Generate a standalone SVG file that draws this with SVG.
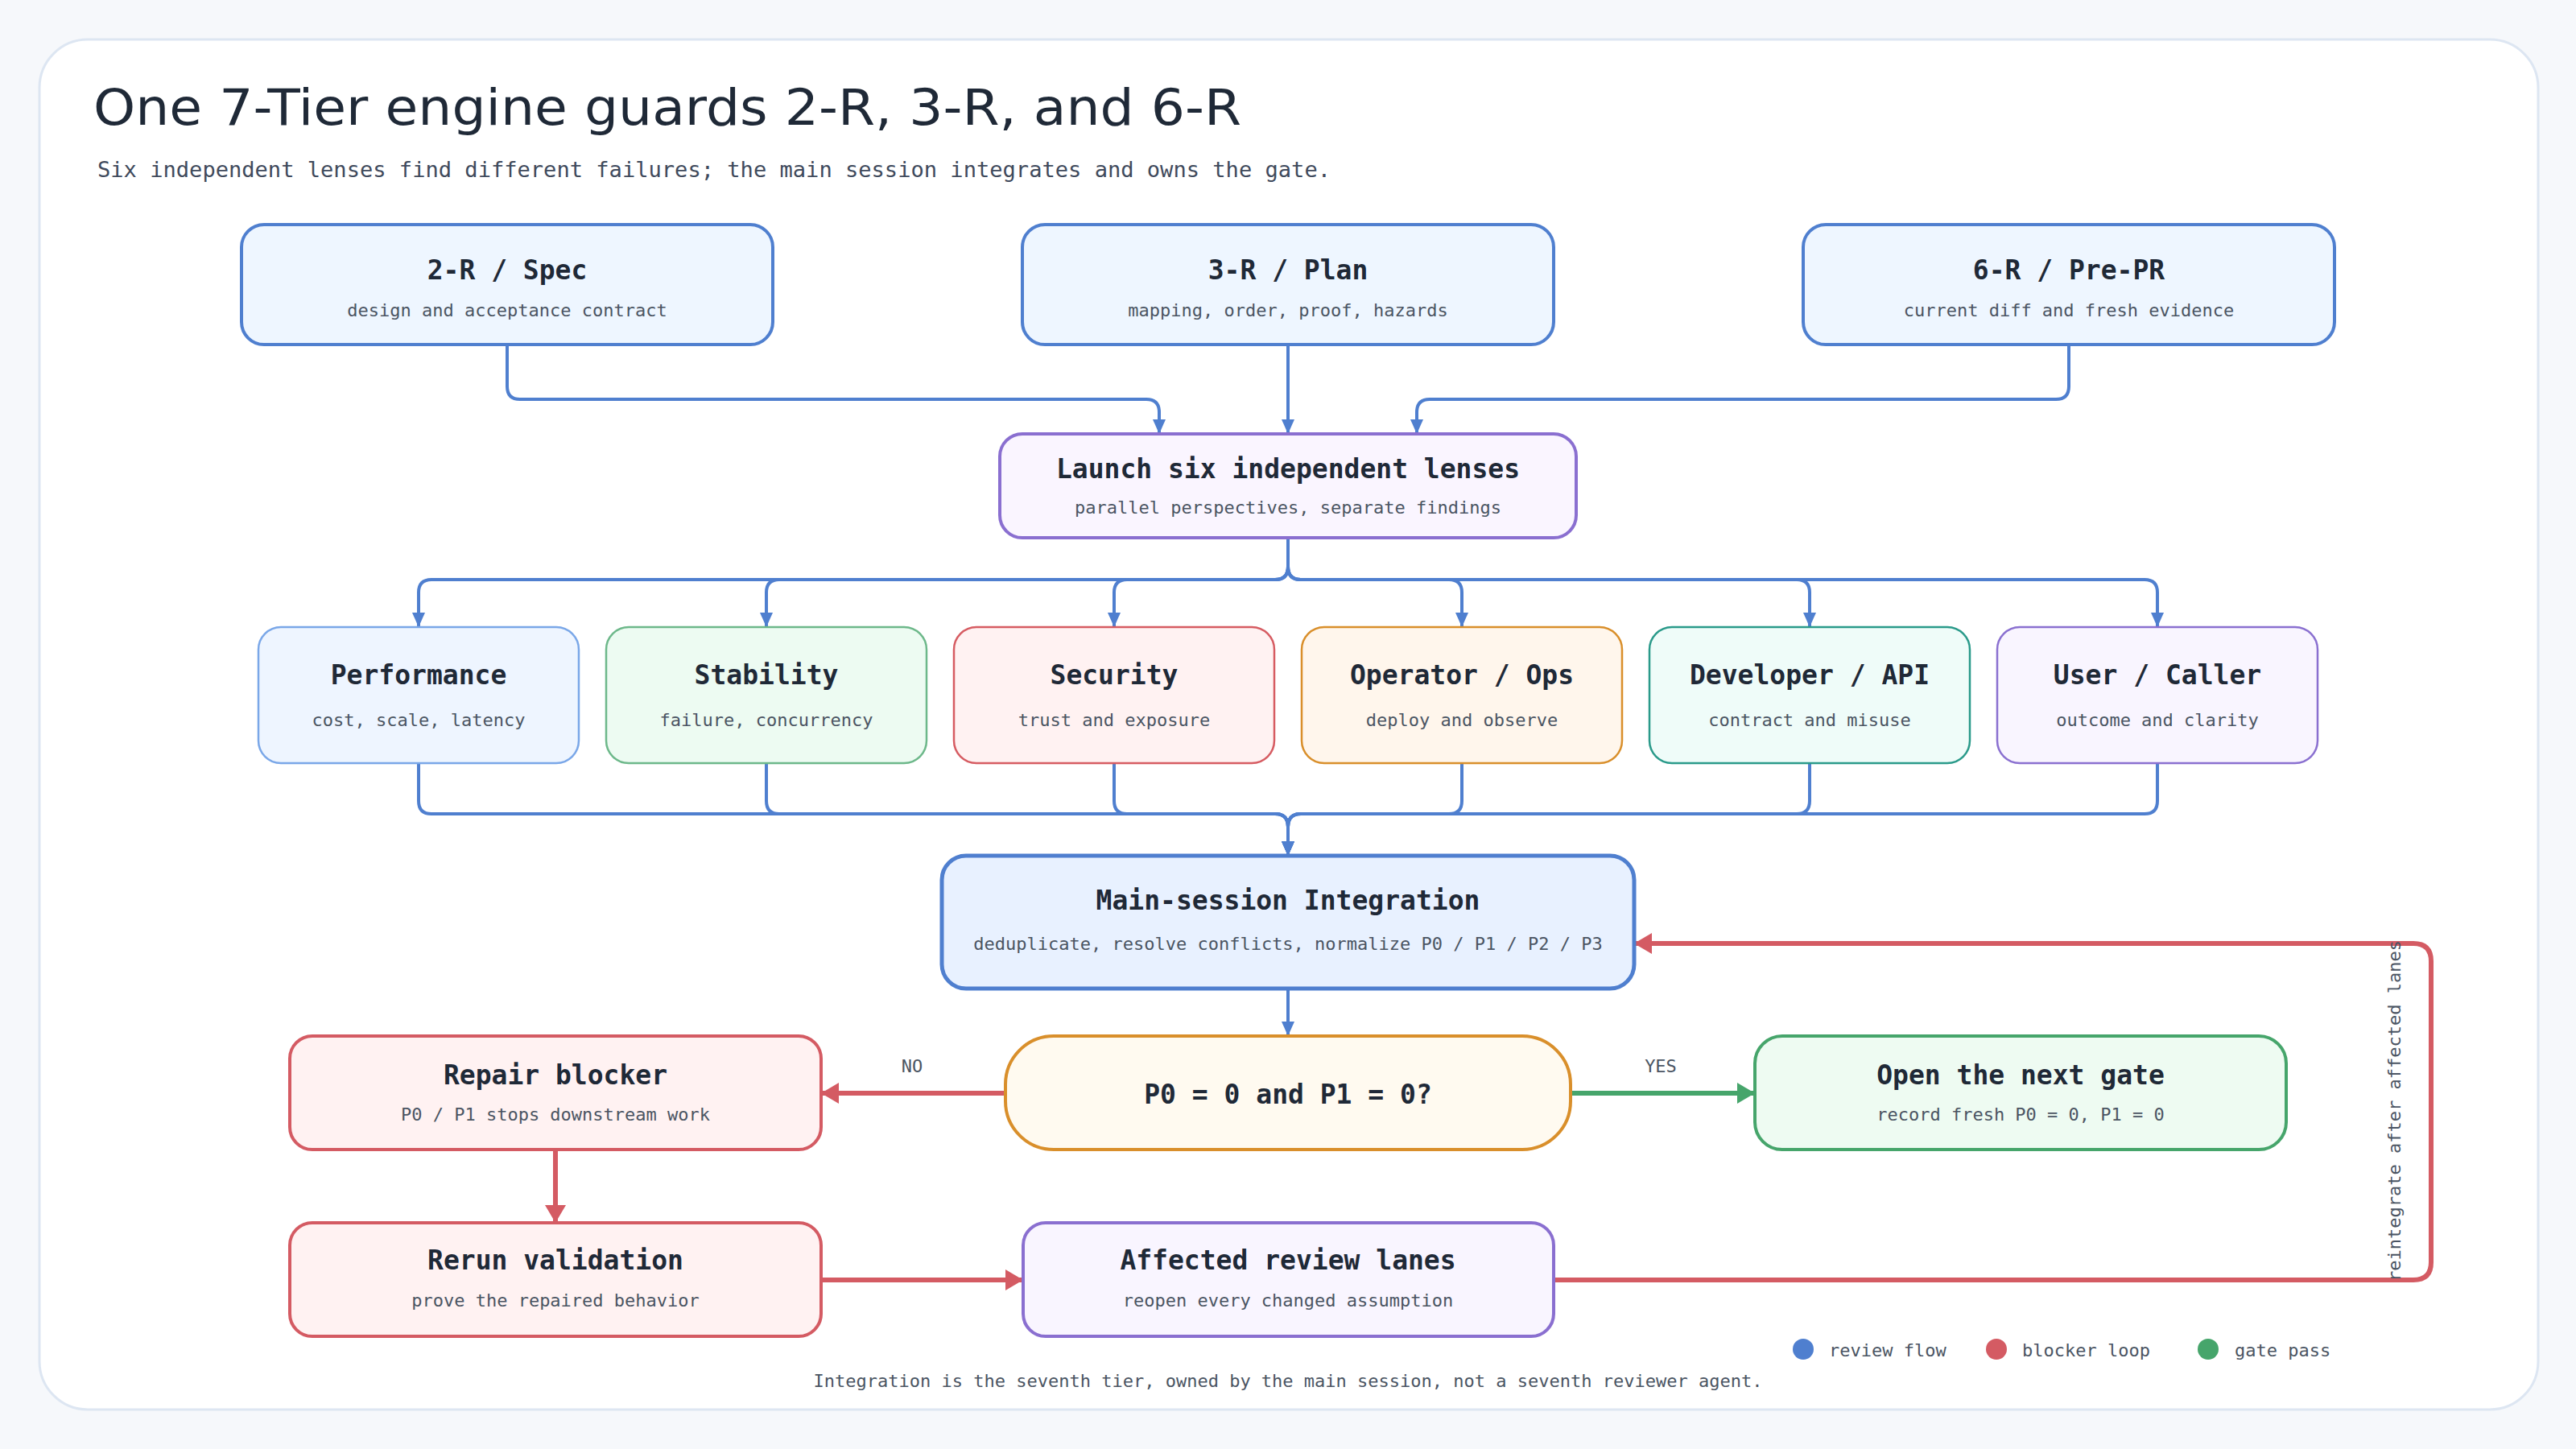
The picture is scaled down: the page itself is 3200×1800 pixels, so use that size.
<svg xmlns="http://www.w3.org/2000/svg" width="3200" height="1800" viewBox="0 0 3200 1800">
<style>
.t{font-family:"DejaVu Sans Mono","Liberation Mono",monospace;font-weight:bold;font-size:33px;fill:#1f2937;text-anchor:middle}
.s{font-family:"DejaVu Sans Mono","Liberation Mono",monospace;font-size:22px;fill:#4b5563;text-anchor:middle}
.lbl{font-family:"DejaVu Sans Mono","Liberation Mono",monospace;font-size:22px;fill:#4b5563}
.blue{fill:none;stroke:#4f7fcf;stroke-width:4}
.red{fill:none;stroke:#d45b63;stroke-width:6}
.green{fill:none;stroke:#46a56b;stroke-width:6}
</style>
<defs>
<marker id="ab" markerUnits="userSpaceOnUse" markerWidth="18" markerHeight="24" viewBox="0 0 18 24" refX="18" refY="9" orient="auto"><path d="M0 1 L18 9 L0 17 Z" fill="#4f7fcf"/></marker>
<marker id="ar" markerUnits="userSpaceOnUse" markerWidth="22" markerHeight="26" viewBox="0 0 22 26" refX="22" refY="13" orient="auto"><path d="M0 0 L22 13 L0 26 Z" fill="#d45b63"/></marker>
<marker id="ag" markerUnits="userSpaceOnUse" markerWidth="22" markerHeight="26" viewBox="0 0 22 26" refX="22" refY="13" orient="auto"><path d="M0 0 L22 13 L0 26 Z" fill="#46a56b"/></marker>
</defs>
<rect x="0" y="0" width="3200" height="1800" fill="#f6f8fb"/>
<rect x="49" y="49" width="3104" height="1702" rx="60" fill="#ffffff" stroke="#dde6f2" stroke-width="3"/>
<text x="116" y="155" font-family="'DejaVu Sans','Liberation Sans',sans-serif" font-size="62" fill="#1f2937" textLength="1426" lengthAdjust="spacingAndGlyphs">One 7-Tier engine guards 2-R, 3-R, and 6-R</text>
<text x="121" y="220" font-family="'DejaVu Sans Mono','Liberation Mono',monospace" font-size="27" fill="#3f4a5c" textLength="1532" lengthAdjust="spacingAndGlyphs">Six independent lenses find different failures; the main session integrates and owns the gate.</text>

<g id="connectors">
<path class="blue" d="M630 428 V480 Q630 496 646 496 H1424 Q1440 496 1440 512 V539" marker-end="url(#ab)"/>
<path class="blue" d="M1600 428 V539" marker-end="url(#ab)"/>
<path class="blue" d="M2570 428 V480 Q2570 496 2554 496 H1776 Q1760 496 1760 512 V539" marker-end="url(#ab)"/>
<path class="blue" d="M1600 668 V704 Q1600 720 1584 720 H536 Q520 720 520 736 V779" marker-end="url(#ab)"/>
<path class="blue" d="M1600 668 V704 Q1600 720 1584 720 H968 Q952 720 952 736 V779" marker-end="url(#ab)"/>
<path class="blue" d="M1600 668 V704 Q1600 720 1584 720 H1400 Q1384 720 1384 736 V779" marker-end="url(#ab)"/>
<path class="blue" d="M1600 668 V704 Q1600 720 1616 720 H1800 Q1816 720 1816 736 V779" marker-end="url(#ab)"/>
<path class="blue" d="M1600 668 V704 Q1600 720 1616 720 H2232 Q2248 720 2248 736 V779" marker-end="url(#ab)"/>
<path class="blue" d="M1600 668 V704 Q1600 720 1616 720 H2664 Q2680 720 2680 736 V779" marker-end="url(#ab)"/>
<path class="blue" d="M520 948 V995 Q520 1011 536 1011 H1584 Q1600 1011 1600 1027 V1063" marker-end="url(#ab)"/>
<path class="blue" d="M952 948 V995 Q952 1011 968 1011 H1584 Q1600 1011 1600 1027 V1063" marker-end="url(#ab)"/>
<path class="blue" d="M1384 948 V995 Q1384 1011 1400 1011 H1584 Q1600 1011 1600 1027 V1063" marker-end="url(#ab)"/>
<path class="blue" d="M1816 948 V995 Q1816 1011 1800 1011 H1616 Q1600 1011 1600 1027 V1063" marker-end="url(#ab)"/>
<path class="blue" d="M2248 948 V995 Q2248 1011 2232 1011 H1616 Q1600 1011 1600 1027 V1063" marker-end="url(#ab)"/>
<path class="blue" d="M2680 948 V995 Q2680 1011 2664 1011 H1616 Q1600 1011 1600 1027 V1063" marker-end="url(#ab)"/>
<path class="blue" d="M1600 1228 V1287" marker-end="url(#ab)"/>
<path class="red" d="M1249 1358 H1020" marker-end="url(#ar)"/>
<path class="green" d="M1951 1358 H2180" marker-end="url(#ag)"/>
<path class="red" d="M690 1428 V1519" stroke-width="5" marker-end="url(#ar)"/>
<path class="red" d="M1020 1590 H1271" marker-end="url(#ar)"/>
<path class="red" d="M1930 1590 H2998 Q3020 1590 3020 1568 V1194 Q3020 1172 2998 1172 H2030" marker-end="url(#ar)"/>
<text class="lbl" x="1133" y="1332" text-anchor="middle">NO</text>
<text class="lbl" x="2063" y="1332" text-anchor="middle">YES</text>
<text class="lbl" transform="translate(2982 1380) rotate(-90)" text-anchor="middle">reintegrate after affected lanes</text>
</g>

<g id="n-spec"><rect x="300" y="279" width="660" height="149" rx="28" fill="#eef6ff" stroke="#4f7fcf" stroke-width="4"/><text class="t" x="630" y="347">2-R / Spec</text><text class="s" x="630" y="393">design and acceptance contract</text></g>
<g id="n-plan"><rect x="1270" y="279" width="660" height="149" rx="28" fill="#eef6ff" stroke="#4f7fcf" stroke-width="4"/><text class="t" x="1600" y="347">3-R / Plan</text><text class="s" x="1600" y="393">mapping, order, proof, hazards</text></g>
<g id="n-prepr"><rect x="2240" y="279" width="660" height="149" rx="28" fill="#eef6ff" stroke="#4f7fcf" stroke-width="4"/><text class="t" x="2570" y="347">6-R / Pre-PR</text><text class="s" x="2570" y="393">current diff and fresh evidence</text></g>
<g id="n-launch"><rect x="1242" y="539" width="716" height="129" rx="28" fill="#faf5ff" stroke="#8a6fd0" stroke-width="4"/><text class="t" x="1600" y="594">Launch six independent lenses</text><text class="s" x="1600" y="638">parallel perspectives, separate findings</text></g>

<g id="n-perf"><rect x="321" y="779" width="398" height="169" rx="28" fill="#eef5ff" stroke="#7aa7e8" stroke-width="2.5"/><text class="t" x="520" y="850">Performance</text><text class="s" x="520" y="902">cost, scale, latency</text></g>
<g id="n-stab"><rect x="753" y="779" width="398" height="169" rx="28" fill="#edfbf2" stroke="#6db88a" stroke-width="2.5"/><text class="t" x="952" y="850">Stability</text><text class="s" x="952" y="902">failure, concurrency</text></g>
<g id="n-sec"><rect x="1185" y="779" width="398" height="169" rx="28" fill="#fff2f2" stroke="#d65c62" stroke-width="2.5"/><text class="t" x="1384" y="850">Security</text><text class="s" x="1384" y="902">trust and exposure</text></g>
<g id="n-ops"><rect x="1617" y="779" width="398" height="169" rx="28" fill="#fff6ec" stroke="#d98f2b" stroke-width="2.5"/><text class="t" x="1816" y="850">Operator / Ops</text><text class="s" x="1816" y="902">deploy and observe</text></g>
<g id="n-dev"><rect x="2049" y="779" width="398" height="169" rx="28" fill="#effcf9" stroke="#2a9a8a" stroke-width="2.5"/><text class="t" x="2248" y="850">Developer / API</text><text class="s" x="2248" y="902">contract and misuse</text></g>
<g id="n-user"><rect x="2481" y="779" width="398" height="169" rx="28" fill="#f9f5ff" stroke="#8a70d0" stroke-width="2.5"/><text class="t" x="2680" y="850">User / Caller</text><text class="s" x="2680" y="902">outcome and clarity</text></g>

<g id="n-integration"><rect x="1170" y="1063" width="860" height="165" rx="30" fill="#e8f1ff" stroke="#4f7fcf" stroke-width="5"/><text class="t" x="1600" y="1130">Main-session Integration</text><text class="s" x="1600" y="1180">deduplicate, resolve conflicts, normalize P0 / P1 / P2 / P3</text></g>
<g id="n-decision"><rect x="1249" y="1287" width="702" height="141" rx="60" fill="#fffaf0" stroke="#d98f2b" stroke-width="4"/><text class="t" x="1600" y="1371">P0 = 0 and P1 = 0?</text></g>
<g id="n-repair"><rect x="360" y="1287" width="660" height="141" rx="28" fill="#fff2f2" stroke="#d45b63" stroke-width="4"/><text class="t" x="690" y="1347">Repair blocker</text><text class="s" x="690" y="1392">P0 / P1 stops downstream work</text></g>
<g id="n-gate"><rect x="2180" y="1287" width="660" height="141" rx="34" fill="#eefbf2" stroke="#46a56b" stroke-width="4"/><text class="t" x="2510" y="1347">Open the next gate</text><text class="s" x="2510" y="1392">record fresh P0 = 0, P1 = 0</text></g>
<g id="n-rerun"><rect x="360" y="1519" width="660" height="141" rx="28" fill="#fff2f2" stroke="#d45b63" stroke-width="4"/><text class="t" x="690" y="1577">Rerun validation</text><text class="s" x="690" y="1623">prove the repaired behavior</text></g>
<g id="n-affected"><rect x="1271" y="1519" width="659" height="141" rx="28" fill="#f9f5ff" stroke="#8a6fd0" stroke-width="4"/><text class="t" x="1600" y="1577">Affected review lanes</text><text class="s" x="1600" y="1623">reopen every changed assumption</text></g>

<g id="legend">
<circle cx="2240" cy="1676" r="13" fill="#4f7fcf"/><text class="lbl" x="2272" y="1685">review flow</text>
<circle cx="2480" cy="1676" r="13" fill="#d45b63"/><text class="lbl" x="2512" y="1685">blocker loop</text>
<circle cx="2743" cy="1676" r="13" fill="#46a56b"/><text class="lbl" x="2776" y="1685">gate pass</text>
</g>
<text class="s" x="1600" y="1723">Integration is the seventh tier, owned by the main session, not a seventh reviewer agent.</text>
</svg>
